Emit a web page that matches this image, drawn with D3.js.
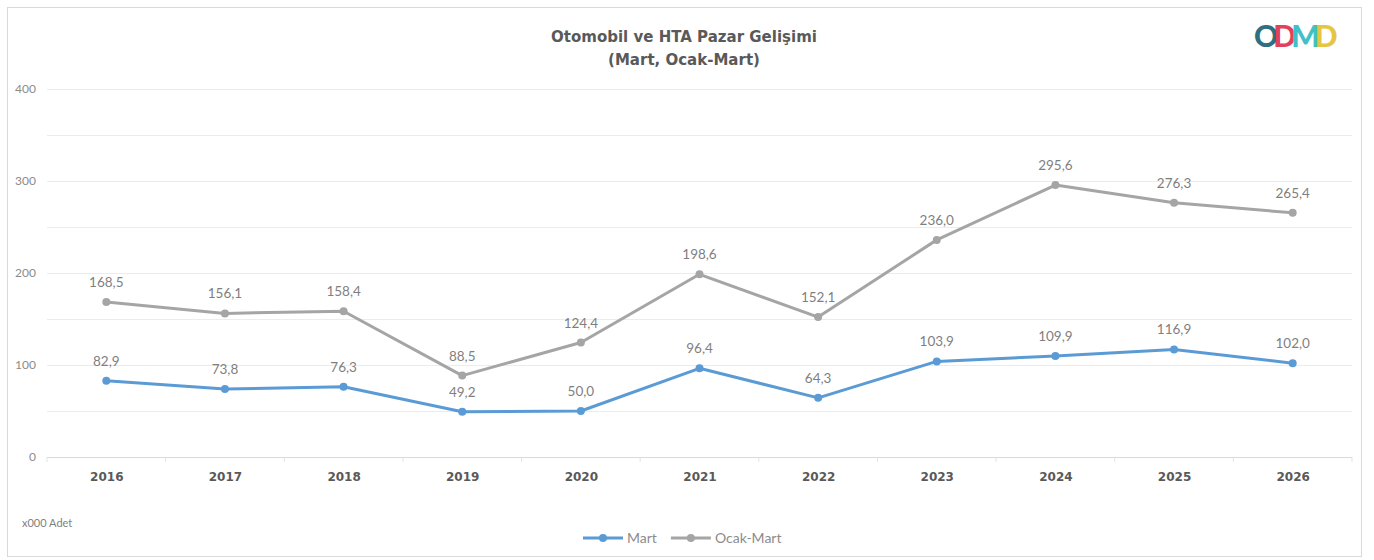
<!DOCTYPE html>
<html>
<head>
<meta charset="utf-8">
<script src="https://cdn.jsdelivr.net/npm/d3@7"></script>
<style>
  body { margin: 0; background: #fff; }
  text { font-family: "Lato", "DejaVu Sans", sans-serif; }
</style>
</head>
<body>
<script>
// data
var years = ["2016","2017","2018","2019","2020","2021","2022","2023","2024","2025","2026"];
var mart = [82.9, 73.8, 76.3, 49.2, 50.0, 96.4, 64.3, 103.9, 109.9, 116.9, 102.0];
var ocakMart = [168.5, 156.1, 158.4, 88.5, 124.4, 198.6, 152.1, 236.0, 295.6, 276.3, 265.4];
var yTicks = [0, 100, 200, 300, 400];
var gridTicks = [0, 50, 100, 150, 200, 250, 300, 350, 400];
var seriesNames = ["Mart", "Ocak-Mart"];
var seriesColors = ["#5b9bd5", "#a5a5a5"];

var W = 1374, H = 560;
var plot = { left: 47, right: 1352, top: 89, bottom: 457 };

var svg = d3.select("body").append("svg")
    .attr("width", W)
    .attr("height", H);

// chart border
svg.append("rect")
    .attr("x", 7.5).attr("y", 7.5)
    .attr("width", 1354).attr("height", 549)
    .attr("fill", "#fff")
    .attr("stroke", "#d9d9d9");

var xScale = d3.scalePoint()
    .domain(years)
    .range([plot.left, plot.right])
    .padding(0.5);
var yScale = d3.scaleLinear()
    .domain([0, 400])
    .range([plot.bottom, plot.top]);

// gridlines
svg.append("g").selectAll("line")
    .data(gridTicks)
    .enter().append("line")
    .attr("x1", plot.left).attr("x2", plot.right)
    .attr("y1", function(d) { return Math.round(yScale(d)) + 0.5; })
    .attr("y2", function(d) { return Math.round(yScale(d)) + 0.5; })
    .attr("stroke", function(d) { return d === 0 ? "#d9d9d9" : "#ececec"; })
    .attr("stroke-width", 1.2);

// y axis
var yAxis = d3.axisLeft(yScale).tickValues(yTicks).tickSize(0).tickPadding(0);
var yg = svg.append("g")
    .attr("transform", "translate(36,0)")
    .call(yAxis);
yg.select(".domain").remove();
yg.selectAll("text")
    .attr("fill", "#8c8c8c")
    .style("font-size", "12px");

// x axis
var xAxis = d3.axisBottom(xScale).tickSize(0).tickPadding(15);
var xg = svg.append("g")
    .attr("transform", "translate(0," + plot.bottom + ")")
    .call(xAxis);
xg.select(".domain").remove();
xg.selectAll("text")
    .attr("fill", "#595959")
    .style("font-family", "'DejaVu Sans', sans-serif")
    .style("font-size", "12px")
    .style("font-weight", "bold");

// small category ticks below baseline
svg.append("g").selectAll("line")
    .data(d3.range(years.length + 1))
    .enter().append("line")
    .attr("x1", function(i) { return xScale(years[0]) - xScale.step() / 2 + i * xScale.step(); })
    .attr("x2", function(i) { return xScale(years[0]) - xScale.step() / 2 + i * xScale.step(); })
    .attr("y1", plot.bottom).attr("y2", plot.bottom + 5)
    .attr("stroke", "#e3e3e3");

// lines
var allSeries = [mart, ocakMart];
var line = d3.line()
    .x(function(d, i) { return xScale(years[i]); })
    .y(function(d) { return yScale(d); });

var fmt = function(v) { return d3.format(".1f")(v).replace(".", ","); };

allSeries.forEach(function(s, k) {
  svg.append("path")
      .datum(s)
      .attr("d", line)
      .attr("fill", "none")
      .attr("stroke", seriesColors[k])
      .attr("stroke-width", 3)
      .attr("stroke-linejoin", "round");

  svg.append("g").selectAll("circle")
      .data(s)
      .enter().append("circle")
      .attr("cx", function(d, i) { return xScale(years[i]); })
      .attr("cy", function(d) { return yScale(d); })
      .attr("r", 4)
      .attr("fill", seriesColors[k]);

  svg.append("g").selectAll("text")
      .data(s)
      .enter().append("text")
      .attr("x", function(d, i) { return xScale(years[i]); })
      .attr("y", function(d) { return yScale(d) - 15; })
      .attr("text-anchor", "middle")
      .attr("fill", "#7f7f7f")
      .style("font-size", "13.5px")
      .text(fmt);
});

// title
var titleLines = ["Otomobil ve HTA Pazar Gelişimi", "(Mart, Ocak-Mart)"];
svg.append("g").selectAll("text")
    .data(titleLines)
    .enter().append("text")
    .attr("x", 684)
    .attr("y", function(d, i) { return 42 + i * 23; })
    .attr("text-anchor", "middle")
    .attr("fill", "#595959")
    .style("font-family", "'DejaVu Sans', sans-serif")
    .style("font-size", "15px")
    .style("font-weight", "bold")
    .text(function(d) { return d; });

// logo
var logo = svg.append("text")
    .attr("x", 1254).attr("y", 47)
    .style("font-size", "30px")
    .style("font-weight", "900")
    .attr("letter-spacing", "-5");
[["O", "#2f6f82"], ["D", "#e2415c"], ["M", "#3fc1c9"], ["D", "#e6c444"]].forEach(function(p) {
  logo.append("tspan").attr("fill", p[1]).text(p[0]);
});

// unit note
svg.append("text")
    .attr("x", 22).attr("y", 527)
    .attr("fill", "#7f7f7f")
    .style("font-size", "11px")
    .text("x000 Adet");

// legend
var legend = svg.append("g").attr("transform", "translate(583,538)");
var lx = 0;
seriesNames.forEach(function(n, k) {
  var g = legend.append("g").attr("transform", "translate(" + lx + ",0)");
  g.append("line").attr("x1", 0).attr("x2", 40).attr("y1", 0).attr("y2", 0)
      .attr("stroke", seriesColors[k]).attr("stroke-width", 3);
  g.append("circle").attr("cx", 20).attr("cy", 0).attr("r", 4).attr("fill", seriesColors[k]);
  var t = g.append("text").attr("x", 44).attr("y", 5)
      .attr("fill", "#8c8c8c")
      .style("font-size", "14px")
      .text(n);
  lx += 44 + t.node().getComputedTextLength() + 14;
});
</script>
</body>
</html>
